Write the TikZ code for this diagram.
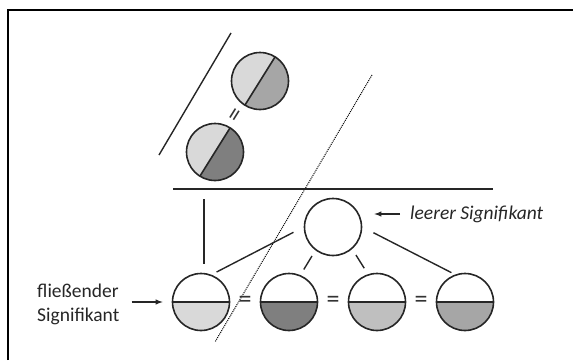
\documentclass[tikz,border=0pt]{standalone}
\usepackage{fontspec}
\setmainfont{Carlito}
\usetikzlibrary{calc}

\definecolor{grA}{HTML}{D9D9D9}
\definecolor{grB}{HTML}{BFBFBF}
\definecolor{grC}{HTML}{A6A6A6}
\definecolor{grD}{HTML}{7F7F7F}

\tikzset{
	sig/.style={circle, draw=black!85, line width=1.6pt, minimum size=57pt, inner sep=0pt},
	half/.style n args={3}{sig, fill=#3, path picture={
		\fill[#2] ($(path picture bounding box.center)+(#1:40)$) -- ++(#1+90:40) -- ++(#1+180:80) -- ++(#1+270:40) -- cycle;
		\draw[draw=black!85, line width=1.6pt] ($(path picture bounding box.center)+(#1:40)$) -- ($(path picture bounding box.center)+(#1+180:40)$);}},
	link/.style={draw=black!85, line width=1.4pt},
	arr/.style={link, -latex},
	eq/.style={font=\fontsize{26}{26}\selectfont, inner sep=0pt, text=black!80},
}

\begin{document}
\begin{tikzpicture}[x=1pt, y=1pt]
		\useasboundingbox (0,0) rectangle (573,360);
		\draw[line width=2pt] (8,0) -- (8,350) -- (573,350);

		\draw[link] (231,327) -- (159,205);
		\draw[densely dotted, line width=1pt] (372,285) -- (215,18);

		\node[half={58}{grA}{grC}] (t1) at (260,279) {};
		\node[half={58}{grA}{grD}] (t2) at (215,208) {};
		\node[eq, rotate=58] (e0) at ($(t1)!0.5!(t2)$) {=};

		\coordinate (rule-l) at (173,171);
		\coordinate (rule-r) at (493,171);
		\draw[link] (rule-l) -- (rule-r);

		\node[sig, fill=white] (leer) at (333,133) {};
		\node[half={0}{white}{grA}] (f1) at (201,58) {};
		\node[half={0}{white}{grD}] (f2) at (289,58) {};
		\node[half={0}{white}{grB}] (f3) at (377,58) {};
		\node[half={0}{white}{grC}] (f4) at (465,58) {};

		\node[eq] (e1) at ($(f1)!0.5!(f2)$) {=};
		\node[eq] (e2) at ($(f2)!0.5!(f3)$) {=};
		\node[eq] (e3) at ($(f3)!0.5!(f4)$) {=};

		\draw[link, shorten <=9pt, shorten >=10pt] (f1.84) -- (f1.84 |- rule-l);
		\draw[link, shorten <=11.5pt, shorten >=5.7pt] (leer.180) -- (f1.69);
		\draw[link, shorten <=6.5pt, shorten >=6.5pt] (leer.233) -- (f2.67);
		\draw[link, shorten <=7pt, shorten >=7pt] (leer.311) -- (f3.108);
		\draw[link, shorten <=12.5pt, shorten >=4pt] (leer.0) -- (f4.110);

		\node[anchor=west, inner sep=0pt, font=\fontsize{19.5}{24}\selectfont\itshape, text=black!85] (leertxt) at (410,146) {leerer Signifikant};
		\node[anchor=west, inner sep=0pt, align=left, font=\fontsize{19.5}{24}\selectfont, text=black!85] (fltxt) at (37,56) {fließender\\Signifikant};

		\draw[arr] ([xshift=-10pt]leertxt.west) -- ([xshift=12pt]leertxt.west -| leer.east);
		\draw[arr] ([xshift=-40pt]f1.west) -- ([xshift=-9pt]f1.west);
	\end{tikzpicture}
\end{document}
